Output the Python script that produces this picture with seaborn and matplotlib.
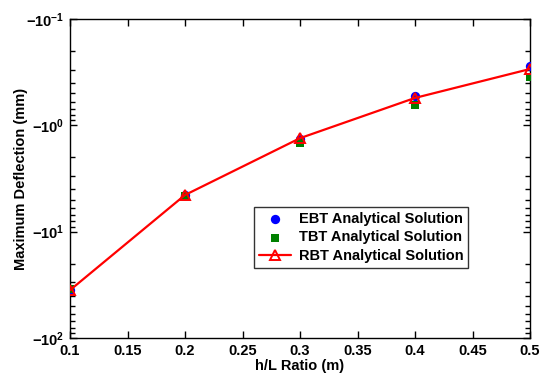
import numpy as np
import pandas as pd
import seaborn as sns
import matplotlib.pyplot as plt
from matplotlib.ticker import FixedLocator, FuncFormatter, NullFormatter

# Data (deflection in mm, negative)
h_over_l = [0.1, 0.2, 0.3, 0.4, 0.5]
ebt = [-35.5, -4.5, -1.33, -0.53, -0.276]
tbt = [-35.0, -4.6, -1.47, -0.645, -0.351]
rbt = [-35.5, -4.52, -1.32, -0.552, -0.295]

df = pd.DataFrame({'ratio': h_over_l, 'EBT': ebt, 'TBT': tbt, 'RBT': rbt})
# magnitudes for the log axis (labels carry the minus sign)
for c in ['EBT', 'TBT', 'RBT']:
    df[c + '_mag'] = -df[c]

sns.set_style('ticks')
plt.rcParams['font.family'] = ['Liberation Sans', 'DejaVu Sans']
plt.rcParams['font.weight'] = 'bold'
plt.rcParams['mathtext.fontset'] = 'custom'
plt.rcParams['mathtext.rm'] = 'Liberation Sans:bold'
plt.rcParams['mathtext.bf'] = 'Liberation Sans:bold'
plt.rcParams['mathtext.default'] = 'bf'
for k in ['text.color', 'axes.labelcolor', 'xtick.color', 'ytick.color']:
    plt.rcParams[k] = 'black'

fig = plt.figure(figsize=(5.49, 3.81), dpi=100)
ax = fig.add_axes([0.1275, 0.113, 0.838, 0.837])

sns.scatterplot(data=df, x='ratio', y='EBT_mag', ax=ax, color='blue', marker='o',
                s=45, edgecolor='blue', linewidth=0, label='EBT Analytical Solution', zorder=3)
sns.scatterplot(data=df, x='ratio', y='TBT_mag', ax=ax, color='green', marker='s',
                s=38, edgecolor='green', linewidth=0, label='TBT Analytical Solution', zorder=3)
sns.lineplot(data=df, x='ratio', y='RBT_mag', ax=ax, color='red', lw=1.6, marker='^',
             markersize=7, markerfacecolor='none', markeredgecolor='red', markeredgewidth=1.4,
             label='RBT Analytical Solution', zorder=4)

ax.set_yscale('log')
ax.set_ylim(100, 0.1)
ax.set_xlim(0.1, 0.5)
ax.set_xticks(np.arange(0.1, 0.51, 0.05))
ax.xaxis.set_major_formatter(FuncFormatter(lambda v, p: ('%.2f' % v).rstrip('0').rstrip('.')))
ax.yaxis.set_major_locator(FixedLocator([0.1, 1, 10, 100]))
ax.yaxis.set_major_formatter(FuncFormatter(lambda v, p: r'$-10^{%d}$' % int(round(np.log10(v)))))
minor = [m * 10.0 ** e for e in (-1, 0, 1) for m in range(2, 10)]
ax.yaxis.set_minor_locator(FixedLocator(minor))
ax.yaxis.set_minor_formatter(NullFormatter())

ax.tick_params(which='both', direction='in', top=True, right=True, labelsize=10.5, pad=4,
               color='black')
ax.tick_params(which='major', length=5, width=1.0)
ax.tick_params(axis='y', which='minor', length=3.5, width=1.0, left=True, right=True)
for s in ax.spines.values():
    s.set_linewidth(1.0)
    s.set_color('black')

ax.set_xlabel('h/L Ratio (m)', fontsize=10.5, fontweight='bold', labelpad=1)
ax.set_ylabel('Maximum Deflection (mm)', fontsize=10.5, fontweight='bold', labelpad=-1)

leg = ax.legend(loc='lower left', bbox_to_anchor=(0.463, 0.297), bbox_transform=fig.transFigure,
                prop={'weight': 'bold', 'size': 10.5}, frameon=True, fancybox=False,
                borderpad=0.35, handlelength=2.2, labelspacing=0.3, borderaxespad=0,
                handletextpad=0.5)
leg.get_frame().set_edgecolor('black')
leg.get_frame().set_linewidth(1.0)

fig.savefig('out.png', dpi=100)
